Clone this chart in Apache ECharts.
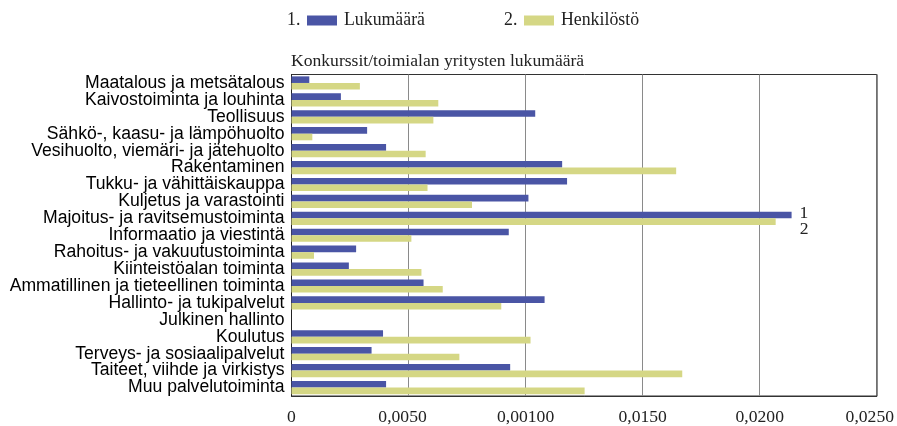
<!DOCTYPE html>
<html>
<head>
<meta charset="utf-8">
<script src="https://cdn.jsdelivr.net/npm/echarts@6/dist/echarts.min.js"></script>
<style>
    html, body { margin: 0; padding: 0; background: #fff; }
    #chart { width: 897px; height: 426px; }
</style>
</head>
<body>
<div id="chart"></div>
<script>
const categories = [
    'Maatalous ja metsätalous',
    'Kaivostoiminta ja louhinta',
    'Teollisuus',
    'Sähkö-, kaasu- ja lämpöhuolto',
    'Vesihuolto, viemäri- ja jätehuolto',
    'Rakentaminen',
    'Tukku- ja vähittäiskauppa',
    'Kuljetus ja varastointi',
    'Majoitus- ja ravitsemustoiminta',
    'Informaatio ja viestintä',
    'Rahoitus- ja vakuutustoiminta',
    'Kiinteistöalan toiminta',
    'Ammatillinen ja tieteellinen toiminta',
    'Hallinto- ja tukipalvelut',
    'Julkinen hallinto',
    'Koulutus',
    'Terveys- ja sosiaalipalvelut',
    'Taiteet, viihde ja virkistys',
    'Muu palvelutoiminta'
]

const lukumaara = [
    0.00076, 0.00211, 0.01041, 0.00323, 0.00404, 0.01156, 0.01177, 0.01012, 0.02136, 0.00928,
    0.00276, 0.00245, 0.00564, 0.01081, 0, 0.00391, 0.00342, 0.00934, 0.00404
]

const henkilosto = [
    0.00292, 0.00627, 0.00606, 0.00089, 0.00573, 0.01643, 0.00581, 0.00771, 0.02068, 0.00512,
    0.00096, 0.00555, 0.00646, 0.00896, 0, 0.01021, 0.00717, 0.01669, 0.01252
]

const tickLabels = ['0', '0,0050', '0,00100', '0,0150', '0,0200', '0,0250']

// index of the bar pair carrying the "1" / "2" markers
const markedIndex = 8

const BLUE = '#4a55a5'
const YELLOW = '#d5d785'
const SERIF = '"Liberation Serif", "Times New Roman", serif'
const SANS = '"Liberation Sans", Arial, sans-serif'

const myChart = echarts.init(document.getElementById('chart'))

const legendText = { fontFamily: SERIF, fontSize: 17.8, color: '#222', lineHeight: 18, padding: [0, 0, 0, 2] }

const option = {
    animation: false,
    title: {
        text: 'Konkurssit/toimialan yritysten lukumäärä',
        left: 291,
        top: 52,
        padding: 0,
        textStyle: {
            fontFamily: SERIF,
            fontSize: 17.6,
            fontWeight: 'normal',
            color: '#222',
            lineHeight: 18
        }
    },
    legend: [
        {
            data: ['Lukumäärä'],
            left: 307,
            top: 11.5,
            padding: 0,
            icon: 'rect',
            itemWidth: 30,
            itemHeight: 10,
            textStyle: legendText
        },
        {
            data: ['Henkilöstö'],
            left: 524,
            top: 11.5,
            padding: 0,
            icon: 'rect',
            itemWidth: 30,
            itemHeight: 10,
            textStyle: legendText
        }
    ],
    graphic: [
        {
            type: 'text', left: 287, top: 11.5,
            style: { text: '1.', font: '17.8px ' + SERIF, fill: '#222' }
        },
        {
            type: 'text', left: 504, top: 11.5,
            style: { text: '2.', font: '17.8px ' + SERIF, fill: '#222' }
        }
    ],
    grid: {
        left: 291.5,
        right: 20,
        top: 74.5,
        bottom: 30,
        show: true,
        borderColor: '#333',
        borderWidth: 1
    },
    xAxis: {
        type: 'value',
        min: 0,
        max: 0.025,
        interval: 0.005,
        axisLine: { show: true, lineStyle: { color: '#333' } },
        axisTick: { show: false },
        splitLine: { show: true, lineStyle: { color: '#8a8a8a', width: 1 } },
        axisLabel: {
            margin: 12,
            fontFamily: SERIF,
            fontSize: 17.6,
            color: '#222',
            formatter: (v) => {
                const i = Math.round(v / 0.005)
                const t = tickLabels[i]
                if (i === 1) return '{a|' + t + '}'
                if (i === tickLabels.length - 1) return '{b|' + t + '}'
                return t
            },
            rich: {
                a: { fontFamily: SERIF, fontSize: 17.6, color: '#222', padding: [0, 12, 0, 0] },
                b: { fontFamily: SERIF, fontSize: 17.6, color: '#222', padding: [0, 14, 0, 0] }
            }
        }
    },
    yAxis: {
        type: 'category',
        inverse: true,
        data: categories,
        axisLine: { show: true, lineStyle: { color: '#222' } },
        axisTick: { show: false },
        splitLine: { show: false },
        axisLabel: {
            interval: 0,
            margin: 7,
            fontFamily: SANS,
            fontSize: 17.6,
            color: '#000',
            padding: [0, 0, 7, 0]
        }
    },
    series: [
        {
            name: 'Lukumäärä',
            type: 'bar',
            barGap: '0%',
            barCategoryGap: '22%',
            itemStyle: { color: BLUE },
            data: lukumaara.map((v, i) => i === markedIndex ? {
                value: v,
                label: {
                    show: true, position: 'right', distance: 8, offset: [0, -2],
                    formatter: '1', fontFamily: SERIF, fontSize: 17.6, color: '#222'
                }
            } : v)
        },
        {
            name: 'Henkilöstö',
            type: 'bar',
            barGap: '0%',
            barCategoryGap: '22%',
            itemStyle: { color: YELLOW },
            data: henkilosto.map((v, i) => i === markedIndex ? {
                value: v,
                label: {
                    show: true, position: 'right', distance: 8, offset: [16, 8],
                    formatter: '2', fontFamily: SERIF, fontSize: 17.6, color: '#222'
                }
            } : v)
        }
    ]
}

myChart.setOption(option)
</script>
</body>
</html>
